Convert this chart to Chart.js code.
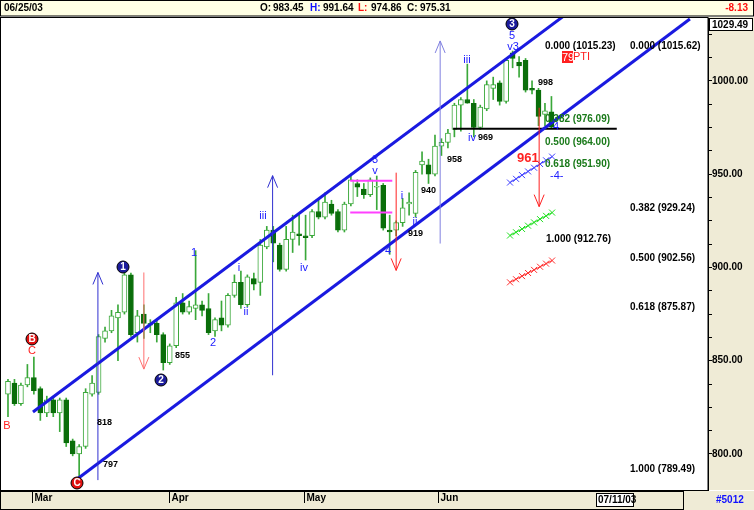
<!DOCTYPE html>
<html><head><meta charset="utf-8">
<script src="https://cdn.jsdelivr.net/npm/chart.js@4"></script>
<style>html,body{margin:0;padding:0;background:#fff}canvas{display:block}</style>
</head><body>
<canvas id="c" width="754" height="510"></canvas>
<script>
// ---- data ----
const openV  = [832,838,827,837,841,835,822,829,822,829,807,800,804,832,833,862,866,873,876,896,865,875,869,870,864,849,858,881,876,878,880,878,866,873,869,885,892,880,894,892,911,920,912,899,915,918,917,917,930,927,934,930,920,934,945,942,939,943,944,920,920,924,934,929,955,955,950,965,967,974,987,990,988,975,985,996,999,989,1015,1010,1011,996,995,982,983.45];
const highV  = [840,840,838,848,852,836,831,831,830,830,808,805,835,842,864,868,877,880,897,897,877,880,872,872,865,859,884,886,882,909,882,886,873,882,886,896,898,896,897,915,922,922,913,922,928,928,928,931,937,940,936,931,935,950,947,945,948,949,945,928,925,937,940,952,962,958,971,969,974,988,991,1009,990,987,1000,1002,1000,1012,1016,1013,1012,1000,996,988,991.64];
const lowV   = [820,826,826,836,832,818,820,820,812,804,799,788,803,831,832,860,865,850,875,863,860,862,865,860,845,848,857,875,875,872,874,864,863,866,868,884,878,879,888,885,910,903,898,898,908,912,904,916,926,926,928,919,919,933,938,937,938,931,920,907,917,922,928,927,950,945,949,960,964,970,973,988,970,974,984,990,987,988,1007,1002,994,993,976,976,974.86];
const closeV = [839,827,837,841,834,822,829,822,829,806,800,804,833,838,863,866,874,876,896,864,874,870,870,864,849,858,881,876,879,880,877,865,872,869,885,892,880,895,891,912,920,913,899,915,919,917,916,930,927,935,929,920,934,947,943,939,947,943,921,919,924,932,935,951,957,950,965,967,972,987,990,988,975,986,998,998,989,1011,1012,1008,995,995,981,984,975.31];
const yTickValues = [800,850,900,950,1000];
const monthLabels = ['Mar','Apr','May','Jun'];
const monthStarts = [3.7,24.9,45.7,66.4];
// channel & guide lines, in [index, value]
const upperChannel = [[3.86,822.5],[86.1,1035.3]];
const lowerChannel = [[10.5,786.1],[105.4,1033.2]];
const supportLine  = [[68.8,974.3],[94.1,974.3]];
const boxTop = [[52.9,946.5],[59.4,946.5]];
const boxBot = [[52.9,929.4],[59.4,929.4]];
const crossBlue  = [[77.6,945.5],[84.1,959.4]];
const crossGreen = [[77.6,917.1],[84.1,929.4]];
const crossRed   = [[77.6,892.0],[84.1,903.7]];
// arrows: index, from, to, colour
const arrows = [[13.9,786,897.3,'#3030d0'],[40.9,842.2,949.2,'#3030d0'],[66.8,912.8,1021.4,'#8080e0'],
                [21.0,897.3,845.5,'#ff7070'],[60.0,950.8,898.4,'#ff2020'],[82.1,985.6,932.6,'#ff2020']];

const idx = openV.map((_,i)=>i);
const up = i => closeV[i] >= openV[i];
const pts = a => a.map(p=>({x:p[0],y:p[1]}));
const lineDS = (d,c,w)=>({type:'line',data:pts(d),borderColor:c,borderWidth:w,pointRadius:0,fill:false,order:0});

const labels = [ // text annotations in pixel positions: x,y,text,colour,font,align
 [545,46,'0.000 (1015.23)','#000','bold 10px Arial','left'],
 [630,46,'0.000 (1015.62)','#000','bold 10px Arial','left'],
 [630,208,'0.382 (929.24)','#000','bold 10px Arial','left'],
 [546,239,'1.000 (912.76)','#000','bold 10px Arial','left'],
 [630,258,'0.500 (902.56)','#000','bold 10px Arial','left'],
 [630,307,'0.618 (875.87)','#000','bold 10px Arial','left'],
 [630,469,'1.000 (789.49)','#000','bold 10px Arial','left'],
 [545,119,'0.382 (976.09)','#1a7a1a','bold 10px Arial','left'],
 [545,142,'0.500 (964.00)','#1a7a1a','bold 10px Arial','left'],
 [545,164,'0.618 (951.90)','#1a7a1a','bold 10px Arial','left'],
 [573,57,'PTI','#ff2020','11px Arial','left'],
 [517,158,'961','#ff2020','bold 13px Arial','left'],
 [550,176,'-4-','#2020ff','11px Arial','left'],
 [553,127,'4','#2020ff','11px Arial','left'],
 [538,83,'998','#000','bold 9px Arial','left'],
 [478,138,'969','#000','bold 9px Arial','left'],
 [447,160,'958','#000','bold 9px Arial','left'],
 [421,191,'940','#000','bold 9px Arial','left'],
 [408,234,'919','#000','bold 9px Arial','left'],
 [175,356,'855','#000','bold 9px Arial','left'],
 [97,423,'818','#000','bold 9px Arial','left'],
 [103,465,'797','#000','bold 9px Arial','left'],
 [32,351,'C','#ff2020','11px Arial','center'],
 [7,426,'B','#ff2020','11px Arial','center'],
 [194,253,'1','#2020ff','11px Arial','center'],
 [213,343,'2','#2020ff','11px Arial','center'],
 [239,268,'i','#2020ff','11px Arial','center'],
 [246,312,'ii','#2020ff','11px Arial','center'],
 [263,216,'iii','#2020ff','11px Arial','center'],
 [304,268,'iv','#2020ff','11px Arial','center'],
 [375,160,'3','#2020ff','11px Arial','center'],
 [375,171,'v','#2020ff','11px Arial','center'],
 [388,251,'4','#2020ff','11px Arial','center'],
 [402,196,'i','#2020ff','11px Arial','center'],
 [415,222,'ii','#2020ff','11px Arial','center'],
 [467,60,'iii','#2020ff','11px Arial','center'],
 [472,138,'iv','#2020ff','11px Arial','center'],
 [512,36,'5','#2020ff','11px Arial','center'],
 [513,47,'v3','#2020ff','11px Arial','center'],
];
const circles = [[123,267,'1','#1c1c9c'],[161,380,'2','#1c1c9c'],[512,24,'3','#1c1c9c'],[32,339,'B','#e01010'],[77,483,'C','#e01010']];

const deco = {
 id:'deco',
 beforeDraw(ch){
  const c=ch.ctx; c.save();
  c.fillStyle='#fff'; c.fillRect(0,0,754,510);
  c.fillStyle='#efebd6'; c.fillRect(708,17,46,473); c.fillRect(0,491,754,19);
  c.fillStyle='#ffffe4'; c.fillRect(0,0,754,16);
  c.strokeStyle='#000'; c.lineWidth=1;
  c.strokeRect(0.5,0.5,753,15.5);
  c.strokeRect(0.5,17.5,707.5,473);
  c.strokeRect(0.5,491.5,683,18);
  c.restore();
 },
 afterDatasetsDraw(ch){
  const c=ch.ctx, xs=ch.scales.x, ys=ch.scales.y;
  c.save();
  [[crossBlue,'#4040ff'],[crossGreen,'#20e020'],[crossRed,'#ff3030']].forEach(([d,col])=>{
    const x0=xs.getPixelForValue(d[0][0]),y0=ys.getPixelForValue(d[0][1]);
    const x1=xs.getPixelForValue(d[1][0]),y1=ys.getPixelForValue(d[1][1]);
    c.strokeStyle=col;c.lineWidth=1;
    for(let k=0;k<=7;k++){const x=x0+(x1-x0)*k/7,y=y0+(y1-y0)*k/7;
      c.beginPath();c.moveTo(x-3,y-3);c.lineTo(x+3,y+3);c.moveTo(x-3,y+3);c.lineTo(x+3,y-3);c.stroke();}
  });
  arrows.forEach(([i,a,b,col])=>{
    const x=xs.getPixelForValue(i),y0=ys.getPixelForValue(a),y1=ys.getPixelForValue(b);
    const dir=y1<y0?1:-1;
    c.strokeStyle=col;c.lineWidth=1;c.beginPath();c.moveTo(x,y0);c.lineTo(x,y1);
    c.moveTo(x-5,y1+dir*12);c.lineTo(x,y1);c.lineTo(x+5,y1+dir*12);c.stroke();
  });
  circles.forEach(([x,y,t,col])=>{
    c.fillStyle=col;c.beginPath();c.arc(x,y,6,0,Math.PI*2);c.fill();
    c.strokeStyle='#000';c.lineWidth=1;c.stroke();
    c.fillStyle='#fff';c.font='bold 10px Arial';c.textAlign='center';c.textBaseline='middle';c.fillText(t,x,y+0.5);
  });
  c.fillStyle='#ff2020';c.fillRect(562,51,11,12);
  c.fillStyle='#fff';c.font='11px Arial';c.textAlign='left';c.textBaseline='middle';c.fillText('79',562,57.5);
  labels.forEach(([x,y,t,col,f,al])=>{c.fillStyle=col;c.font=f;c.textAlign=al;c.textBaseline='middle';c.fillText(t,x,y);});
  c.font='bold 10px Arial';c.textBaseline='middle';c.textAlign='left';
  const hy=8.5;
  c.fillStyle='#000';c.fillText('06/25/03',4,hy);
  const hdr=[[260,'O:','#000','983.45'],[310,'H:','#1010ff','991.64'],[358,'L:','#ff1010','974.86'],[407,'C:','#000','975.31']];
  hdr.forEach(([x,k,col,v])=>{c.fillStyle=col;c.fillText(k,x,hy);c.fillStyle='#000';c.fillText(v,x+13,hy);});
  c.fillStyle='#ff1010';c.textAlign='right';c.fillText('-8.13',748,hy);
  c.fillStyle='#fff';c.fillRect(709,18,44,13);c.strokeStyle='#000';c.strokeRect(709.5,18.5,43,12);
  c.fillStyle='#000';c.textAlign='left';c.font='bold 10px Arial';c.fillText('1029.49',712,25);
  c.textAlign='left';c.font='bold 10px Arial';
  monthStarts.forEach((m,k)=>{const x=Math.round(xs.getPixelForValue(m))+0.5;
    c.strokeStyle='#000';c.beginPath();c.moveTo(x,491);c.lineTo(x,503);c.stroke();
    c.fillStyle='#000';c.fillText(monthLabels[k],x+2,498);});
  c.fillStyle='#fff';c.fillRect(596,493,38,14);c.strokeStyle='#000';c.strokeRect(596.5,493.5,37,13);
  c.fillStyle='#000';c.fillText('07/11/03',598,500.5);
  c.fillStyle='#1010ff';c.font='bold 10px Arial';c.fillText('#5012',716,500.5);
  c.restore();
 }
};

new Chart(document.getElementById('c'),{
 type:'bar',
 data:{labels:idx,datasets:[
  {data:idx.map(i=>({x:i,y:[lowV[i],highV[i]]})),backgroundColor:'#3aa83a',barThickness:1,grouped:false,order:3},
  {data:idx.map(i=>({x:i,y:[openV[i],closeV[i]]})),grouped:false,barThickness:5,minBarLength:1,order:2,
   backgroundColor:idx.map(i=>up(i)?'#ffffff':'#0a6e0a'),borderColor:idx.map(i=>up(i)?'#3aa83a':'#0a6e0a'),borderWidth:1,borderSkipped:false},
  lineDS(upperChannel,'#1a1ae0',3),lineDS(lowerChannel,'#1a1ae0',3),lineDS(supportLine,'#000',2),
  lineDS(boxTop,'#ff40ff',2),lineDS(boxBot,'#ff40ff',2),
  lineDS(crossBlue,'#4040ff',1),lineDS(crossGreen,'#20e020',1),lineDS(crossRed,'#ff3030',1)
 ]},
 options:{responsive:false,animation:false,devicePixelRatio:1,
  layout:{padding:{top:18,bottom:20,left:1}},
  plugins:{legend:{display:false},tooltip:{enabled:false}},
  scales:{
   x:{type:'linear',display:false,min:-1.08,max:108.2,offset:false},
   y:{position:'right',min:780.7,max:1033.7,
      afterFit(s){s.width=46;},
      afterBuildTicks(s){const t=[];for(let v=800;v<=1025;v+=12.5)t.push({value:v});s.ticks=t;},
      ticks:{color:'#000',font:{family:'Arial',size:10,weight:'bold'},padding:0,autoSkip:false,
        callback:v=>yTickValues.includes(v)?v.toFixed(2):''},
      grid:{drawOnChartArea:false,tickLength:4,color:'#000'},border:{color:'#000'}}
  }},
 plugins:[deco]
});
</script>
</body></html>
